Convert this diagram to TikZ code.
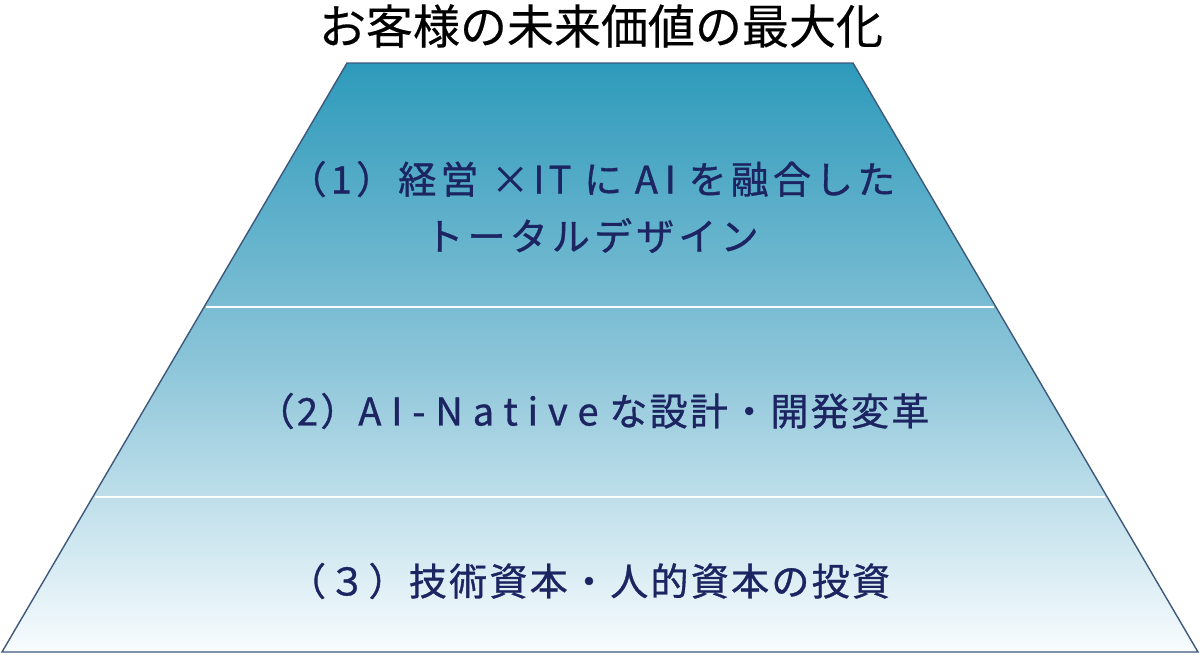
\documentclass[tikz,border=0pt]{standalone}
\usepackage{fontspec}
\usetikzlibrary{calc}
\newfontfamily\jpfont[FakeBold=0.3]{Noto Sans CJK JP}
\newfontfamily\jpmed[FakeBold=0.9,LetterSpace=6]{Noto Sans CJK JP}
\newcommand{\spaced}[2]{{\addfontfeature{LetterSpace=#1}#2}}
\definecolor{topc}{RGB}{46,154,187}
\definecolor{midc}{RGB}{138,196,216}
\definecolor{botc}{RGB}{248,252,254}
\definecolor{edgec}{RGB}{62,88,124}
\definecolor{txtc}{RGB}{28,37,98}
\tikzset{
  layertext/.style={text=txtc, font=\jpmed\fontsize{38}{57}\selectfont, align=center, inner sep=0pt},
  titletext/.style={text=black, font=\jpfont\fontsize{47}{56}\selectfont, inner sep=0pt},
  divider/.style={draw=white, line width=1.8pt},
}
\begin{document}
\begin{tikzpicture}[x=1pt,y=-1pt]
\useasboundingbox (0,0) rectangle (1200,654);
\coordinate (tl) at (347,63);
\coordinate (tr) at (853,63);
\coordinate (br) at (1198,652);
\coordinate (bl) at (2,652);
\path[top color=topc, bottom color=botc, middle color=midc] (tl) -- (tr) -- (br) -- (bl) -- cycle;
\coordinate (d1l) at ($(tl)!0.4143!(bl)+(2,0)$);
\coordinate (d1r) at ($(tr)!0.4143!(br)+(-2,0)$);
\coordinate (d2l) at ($(tl)!0.7368!(bl)+(2,0)$);
\coordinate (d2r) at ($(tr)!0.7368!(br)+(-2,0)$);
\draw[divider] (d1l) -- (d1r);
\draw[divider] (d2l) -- (d2r);
\draw[edgec, line width=1.4pt, line join=miter] (tl) -- (tr) -- (br) -- (bl) -- cycle;
\node[titletext] (title) at (601,26) {お客様の未来価値の最大化};
\node[layertext] (l1) at (592,207) {\spaced{11}{（1）経営 ×IT に \spaced{18}{AI} を融合した}\\\spaced{11}{トータルデザイン}};
\node[layertext] (l2) at (593,411) {（2）\spaced{26}{AI-Native} な設計・開発変革};
\node[layertext] (l3) at (589,581) {（３）技術資本・人的資本の投資};
\end{tikzpicture}
\end{document}
